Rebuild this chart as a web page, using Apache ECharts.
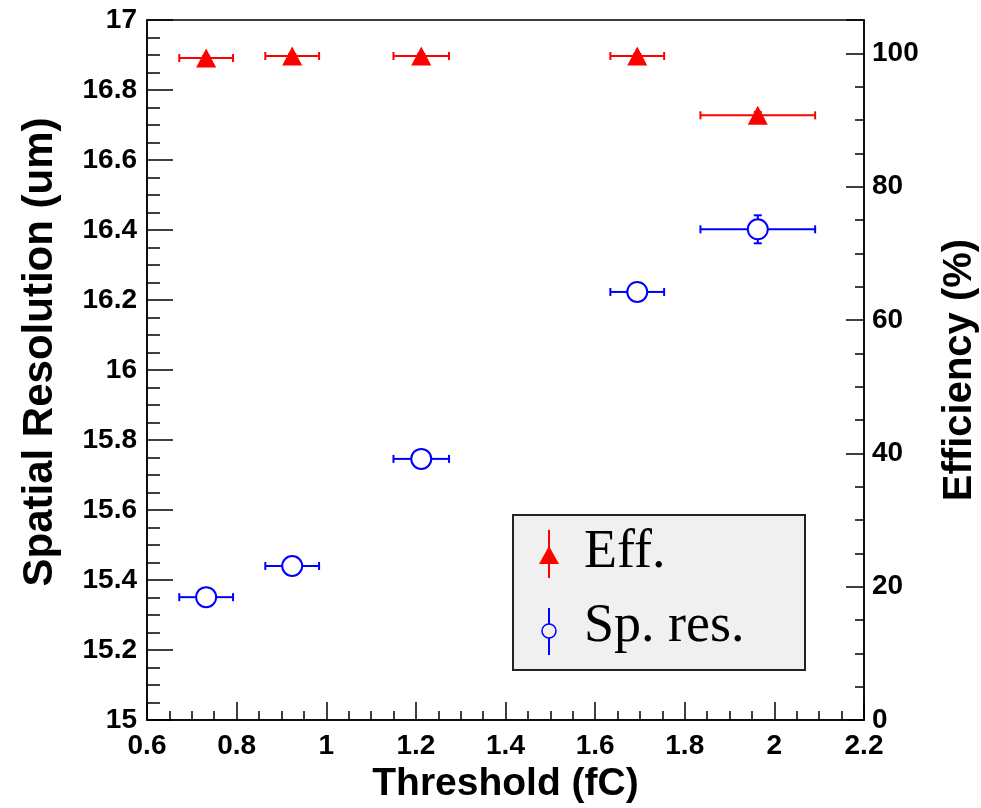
<!DOCTYPE html>
<html>
<head>
<meta charset="utf-8">
<script src="https://cdn.jsdelivr.net/npm/echarts@6/dist/echarts.min.js"></script>
<style>
  html, body { margin: 0; padding: 0; background: #fff; }
  #main { width: 981px; height: 808px; }
</style>
</head>
<body>
<div id="main"></div>
<script>
// threshold points (fC) and their half-widths
const thresholds = [0.732, 0.924, 1.212, 1.694, 1.963]
const thresholdErr = [0.060, 0.060, 0.062, 0.060, 0.128]
// efficiency (%)
const efficiency = [99.3, 99.6, 99.6, 99.6, 90.7]
const efficiencyErr = [0.3, 0.3, 0.3, 0.3, 0.5]
// spatial resolution (um)
const resolution = [15.351, 15.440, 15.746, 16.223, 16.402]
const resolutionErr = [0.01, 0.01, 0.01, 0.015, 0.04]

const legendNames = ['Eff.', 'Sp. res.']

const sansFont = '"Liberation Sans", Arial, Helvetica, sans-serif'
const serifFont = '"Liberation Serif", "Times New Roman", serif'

const effRows = thresholds.map((x, i) => [x, efficiency[i], thresholdErr[i], efficiencyErr[i]])
const resRows = thresholds.map((x, i) => [x, resolution[i], thresholdErr[i], resolutionErr[i]])

// error bars drawn like ROOT: lines stop at the marker edge, small end caps
function errorBars(color, gap) {
  return function (params, api) {
    const x = api.value(0), y = api.value(1), ex = api.value(2), ey = api.value(3)
    const c = api.coord([x, y])
    const l = api.coord([x - ex, y])
    const r = api.coord([x + ex, y])
    const t = api.coord([x, y + ey])
    const b = api.coord([x, y - ey])
    const style = { stroke: color, lineWidth: 2 }
    const cap = 4
    const kids = []
    const seg = (x1, y1, x2, y2) => kids.push({ type: 'line', shape: { x1, y1, x2, y2 }, style })
    if (c[0] - gap > l[0]) seg(l[0], c[1], c[0] - gap, c[1])
    if (r[0] > c[0] + gap) seg(c[0] + gap, c[1], r[0], c[1])
    seg(l[0], c[1] - cap, l[0], c[1] + cap)
    seg(r[0], c[1] - cap, r[0], c[1] + cap)
    if (c[1] - t[1] > gap + 1) {
      seg(c[0], c[1] - gap, c[0], t[1])
      seg(c[0] - cap, t[1], c[0] + cap, t[1])
    }
    if (b[1] - c[1] > gap + 1) {
      seg(c[0], c[1] + gap, c[0], b[1])
      seg(c[0] - cap, b[1], c[0] + cap, b[1])
    }
    return { type: 'group', children: kids }
  }
}

const chart = echarts.init(document.getElementById('main'))

const tickLabel = { color: '#000', fontFamily: sansFont, fontWeight: 'bold', fontSize: 28 }
const titleStyle = { color: '#000', fontFamily: sansFont, fontWeight: 'bold', fontSize: 39 }

chart.setOption({
  animation: false,
  backgroundColor: '#fff',
  grid: {
    left: 147, right: 117, top: 20, bottom: 88,
    outerBoundsMode: 'none',
    show: true, borderColor: '#000', borderWidth: 1.5, backgroundColor: 'transparent'
  },
  xAxis: {
    type: 'value', min: 0.6, max: 2.2, interval: 0.2,
    name: 'Threshold (fC)', nameLocation: 'middle', nameGap: 42, nameTextStyle: titleStyle,
    axisLine: { lineStyle: { color: '#000', width: 1.5 } },
    axisTick: { inside: true, length: 18, lineStyle: { color: '#000', width: 1.5 } },
    minorTick: { show: true, splitNumber: 4, length: 9, lineStyle: { color: '#000', width: 1.5 } },
    splitLine: { show: false },
    axisLabel: Object.assign({ margin: 12 }, tickLabel)
  },
  yAxis: [
    {
      type: 'value', min: 15, max: 17, interval: 0.2, position: 'left',
      axisLine: { lineStyle: { color: '#000', width: 1.5 } },
      axisTick: { inside: true, length: 26, lineStyle: { color: '#000', width: 1.5 } },
      minorTick: { show: true, splitNumber: 4, length: 13, lineStyle: { color: '#000', width: 1.5 } },
      splitLine: { show: false },
      axisLabel: Object.assign({ margin: 10 }, tickLabel)
    },
    {
      type: 'value', min: 0, max: 105, interval: 20, position: 'right',
      name: 'Efficiency (%)', nameLocation: 'middle', nameGap: 76,
      nameTextStyle: Object.assign({}, titleStyle, { fontSize: 40 }),
      axisLine: { show: true, lineStyle: { color: '#000', width: 1.5 } },
      axisTick: { inside: true, length: 18, lineStyle: { color: '#000', width: 1.5 } },
      minorTick: { show: true, splitNumber: 4, length: 9, lineStyle: { color: '#000', width: 1.5 } },
      splitLine: { show: false },
      axisLabel: Object.assign({
        margin: 8,
        formatter: v => (v > 100 ? '' : String(v))
      }, tickLabel)
    }
  ],
  series: [
    {
      name: legendNames[0] + ' err', type: 'custom', yAxisIndex: 1, z: 2,
      renderItem: errorBars('#ff0000', 0), data: effRows, silent: true
    },
    {
      name: legendNames[1] + ' err', type: 'custom', yAxisIndex: 0, z: 2,
      renderItem: errorBars('#0000ff', 10), data: resRows, silent: true
    },
    {
      name: legendNames[0], type: 'scatter', yAxisIndex: 1, z: 3,
      symbol: 'triangle', symbolSize: [20, 19],
      itemStyle: { color: '#ff0000', opacity: 1 },
      data: effRows.map(r => [r[0], r[1]])
    },
    {
      name: legendNames[1], type: 'scatter', yAxisIndex: 0, z: 3,
      symbol: 'circle', symbolSize: 20,
      itemStyle: { color: 'rgba(0,0,0,0)', borderColor: '#0000ff', borderWidth: 2, opacity: 1 },
      data: resRows.map(r => [r[0], r[1]])
    }
  ],
  graphic: [
    // left axis title, set a little above centre as in the original
    {
      type: 'text', x: 40, y: 352, rotation: Math.PI / 2, z: 10,
      style: {
        text: 'Spatial Resolution (um)', font: 'bold 42px ' + sansFont, fill: '#000',
        align: 'center', verticalAlign: 'middle'
      }
    },
    {
      type: 'group', left: 512, top: 514, z: 10,
      children: [
        { type: 'rect', shape: { x: 0, y: 0, width: 292, height: 155 },
          style: { fill: '#f0f0f0', stroke: '#222', lineWidth: 2 } },
        { type: 'line', shape: { x1: 36, y1: 15, x2: 36, y2: 63 }, style: { stroke: '#ff0000', lineWidth: 2 } },
        { type: 'polygon', shape: { points: [[36, 31], [46, 49], [26, 49]] }, style: { fill: '#ff0000' } },
        { type: 'line', shape: { x1: 36, y1: 93, x2: 36, y2: 140 }, style: { stroke: '#0000ff', lineWidth: 2 } },
        { type: 'circle', shape: { cx: 36, cy: 116, r: 7 }, style: { fill: '#f0f0f0', stroke: '#0000ff', lineWidth: 1.5 } },
        { type: 'text', x: 71, y: 38, style: { text: legendNames[0], font: '54px ' + serifFont, fill: '#000', verticalAlign: 'middle' } },
        { type: 'text', x: 71, y: 112, style: { text: legendNames[1], font: '54px ' + serifFont, fill: '#000', verticalAlign: 'middle' } }
      ]
    }
  ]
})
</script>
</body>
</html>
